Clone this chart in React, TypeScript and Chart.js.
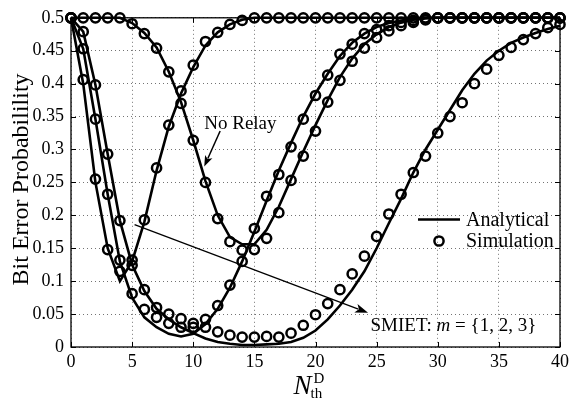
import React, { useEffect, useRef } from 'react';
import { Chart, registerables } from 'chart.js';

Chart.register(...registerables);

// ---------- data ----------
const xValues = [0, 1, 2, 3, 4, 5, 6, 7, 8, 9, 10, 11, 12, 13, 14, 15, 16, 17, 18, 19, 20,
  21, 22, 23, 24, 25, 26, 27, 28, 29, 30, 31, 32, 33, 34, 35, 36, 37, 38, 39, 40];

const xTicks = [0, 5, 10, 15, 20, 25, 30, 35, 40];
const yTicks = [0, 0.05, 0.1, 0.15, 0.2, 0.25, 0.3, 0.35, 0.4, 0.45, 0.5];
const yTickLabels = ['0', '0.05', '0.1', '0.15', '0.2', '0.25', '0.3', '0.35', '0.4', '0.45', '0.5'];

// No relay
const noRelayAnalytical = [0.5, 0.5, 0.5, 0.5, 0.5, 0.492, 0.477, 0.455, 0.418, 0.372, 0.314,
  0.252, 0.2, 0.167, 0.156, 0.156, 0.178, 0.213, 0.255, 0.297, 0.337,
  0.375, 0.41, 0.438, 0.46, 0.475, 0.486, 0.493, 0.497, 0.499, 0.5,
  0.5, 0.5, 0.5, 0.5, 0.5, 0.5, 0.5, 0.5, 0.5, 0.5];
const noRelaySimulation = [0.5, 0.5, 0.5, 0.5, 0.5, 0.491, 0.476, 0.454, 0.418, 0.37, 0.314,
  0.25, 0.195, 0.16, 0.147, 0.148, 0.165, 0.204, 0.253, 0.29, 0.328,
  0.372, 0.405, 0.434, 0.454, 0.47, 0.48, 0.488, 0.493, 0.497, 0.5,
  0.5, 0.5, 0.5, 0.5, 0.5, 0.5, 0.5, 0.5, 0.5, 0.5];

// SMIET m = 1
const m1Analytical = [0.5, 0.4, 0.25, 0.15, 0.1, 0.13, 0.19, 0.268, 0.335, 0.385, 0.425,
  0.458, 0.478, 0.49, 0.497, 0.5, 0.5, 0.5, 0.5, 0.5, 0.5,
  0.5, 0.5, 0.5, 0.5, 0.5, 0.5, 0.5, 0.5, 0.5, 0.5,
  0.5, 0.5, 0.5, 0.5, 0.5, 0.5, 0.5, 0.5, 0.5, 0.5];
const m1Simulation = [0.5, 0.406, 0.255, 0.148, 0.115, 0.132, 0.193, 0.272, 0.337, 0.389, 0.428,
  0.464, 0.478, 0.49, 0.496, 0.5, 0.5, 0.5, 0.5, 0.5, 0.5,
  0.5, 0.5, 0.5, 0.5, 0.5, 0.5, 0.5, 0.5, 0.5, 0.5,
  0.5, 0.5, 0.5, 0.5, 0.5, 0.5, 0.5, 0.5, 0.5, 0.5];

// SMIET m = 2
const m2Analytical = [0.5, 0.453, 0.346, 0.232, 0.13, 0.075, 0.045, 0.03, 0.02, 0.016, 0.02,
  0.035, 0.058, 0.09, 0.13, 0.175, 0.222, 0.268, 0.31, 0.35, 0.385,
  0.415, 0.442, 0.462, 0.476, 0.486, 0.492, 0.496, 0.498, 0.5, 0.5,
  0.5, 0.5, 0.5, 0.5, 0.5, 0.5, 0.5, 0.5, 0.5, 0.5];
const m2Simulation = [0.5, 0.453, 0.346, 0.232, 0.132, 0.081, 0.057, 0.045, 0.036, 0.03, 0.03,
  0.042, 0.063, 0.094, 0.13, 0.18, 0.229, 0.262, 0.304, 0.346, 0.382,
  0.413, 0.445, 0.46, 0.476, 0.482, 0.488, 0.493, 0.496, 0.498, 0.5,
  0.5, 0.5, 0.5, 0.5, 0.5, 0.5, 0.5, 0.5, 0.5, 0.5];

// SMIET m = 3
const m3Analytical = [0.5, 0.479, 0.398, 0.293, 0.192, 0.125, 0.085, 0.058, 0.042, 0.03, 0.021,
  0.013, 0.0075, 0.005, 0.003, 0.003, 0.004, 0.005, 0.0075, 0.014, 0.025,
  0.042, 0.063, 0.087, 0.115, 0.15, 0.188, 0.225, 0.265, 0.3, 0.33,
  0.36, 0.39, 0.415, 0.435, 0.45, 0.462, 0.47, 0.477, 0.483, 0.488];
const m3Simulation = [0.5, 0.479, 0.398, 0.293, 0.192, 0.124, 0.087, 0.06, 0.05, 0.043, 0.036,
  0.03, 0.023, 0.018, 0.015, 0.015, 0.016, 0.015, 0.021, 0.033, 0.049,
  0.066, 0.087, 0.111, 0.138, 0.168, 0.202, 0.232, 0.265, 0.29, 0.325,
  0.35, 0.371, 0.4, 0.422, 0.443, 0.455, 0.467, 0.476, 0.485, 0.49];

// annotation anchors (data coordinates)
const noRelayLabel = { text: 'No Relay', x: 10.9, y: 0.335 };
const noRelayArrow = { from: [12.2, 0.328], to: [10.9, 0.274] };
const smietArrow = { from: [5.2, 0.186], to: [24.3, 0.052] };
const smietLabel = { x: 24.5, y: 0.024 };

const legendLabels = ['Analytical', 'Simulation'];

const FONT = "'Liberation Serif', 'Times New Roman', serif";

export default function App() {
  const ref = useRef<HTMLCanvasElement>(null);

  useEffect(() => {
    const canvas = ref.current;
    if (!canvas) return;
    const pts = (ys: number[]) => xValues.map((x, i) => ({ x, y: ys[i] }));

    const lineDs = (label: string, ys: number[]) => ({
      label,
      data: pts(ys),
      borderColor: '#000',
      borderWidth: 2.6,
      pointRadius: 0,
      tension: 0,
      fill: false,
      clip: false as any,
    });
    const simDs = (label: string, ys: number[]) => ({
      label,
      data: pts(ys),
      showLine: false,
      borderColor: '#000',
      backgroundColor: 'rgba(0,0,0,0)',
      pointBorderColor: '#000',
      pointBackgroundColor: 'rgba(0,0,0,0)',
      pointBorderWidth: 2.5,
      pointRadius: 4.6,
      pointStyle: 'circle',
      clip: false as any,
    });

    const drawArrow = (ctx: CanvasRenderingContext2D, x1: number, y1: number, x2: number, y2: number, lw: number, hl: number, hw: number) => {
      const ang = Math.atan2(y2 - y1, x2 - x1);
      ctx.lineWidth = lw;
      ctx.beginPath();
      ctx.moveTo(x1, y1);
      ctx.lineTo(x2 - Math.cos(ang) * hl * 0.8, y2 - Math.sin(ang) * hl * 0.8);
      ctx.stroke();
      ctx.beginPath();
      ctx.moveTo(x2, y2);
      ctx.lineTo(x2 - Math.cos(ang) * hl - Math.sin(ang) * hw, y2 - Math.sin(ang) * hl + Math.cos(ang) * hw);
      ctx.lineTo(x2 - Math.cos(ang) * hl * 0.75, y2 - Math.sin(ang) * hl * 0.75);
      ctx.lineTo(x2 - Math.cos(ang) * hl + Math.sin(ang) * hw, y2 - Math.sin(ang) * hl - Math.cos(ang) * hw);
      ctx.closePath();
      ctx.fill();
    };

    const overlay = {
      id: 'overlay',
      afterDraw(chart: any) {
        const { ctx, chartArea: a, scales } = chart;
        const sx = scales.x;
        const sy = scales.y;
        ctx.save();
        ctx.strokeStyle = '#000';
        ctx.fillStyle = '#000';

        // box
        ctx.lineWidth = 1.3;
        ctx.strokeRect(a.left, a.top, a.right - a.left, a.bottom - a.top);

        // inward tick marks
        ctx.lineWidth = 1;
        const tl = 5;
        ctx.beginPath();
        xTicks.forEach((v) => {
          const px = Math.round(sx.getPixelForValue(v)) + 0.5;
          ctx.moveTo(px, a.bottom); ctx.lineTo(px, a.bottom - tl);
          ctx.moveTo(px, a.top); ctx.lineTo(px, a.top + tl);
        });
        yTicks.forEach((v) => {
          const py = Math.round(sy.getPixelForValue(v)) + 0.5;
          ctx.moveTo(a.left, py); ctx.lineTo(a.left + tl, py);
          ctx.moveTo(a.right, py); ctx.lineTo(a.right - tl, py);
        });
        ctx.stroke();

        // legend
        ctx.lineWidth = 2.6;
        ctx.beginPath();
        ctx.moveTo(418, 219.5); ctx.lineTo(460, 219.5);
        ctx.stroke();
        ctx.lineWidth = 2.5;
        ctx.beginPath();
        ctx.arc(439, 241, 4.6, 0, Math.PI * 2);
        ctx.stroke();
        ctx.font = `20px ${FONT}`;
        ctx.textAlign = 'left';
        ctx.textBaseline = 'alphabetic';
        ctx.fillText(legendLabels[0], 466, 226);
        ctx.fillText(legendLabels[1], 466, 247);

        // No Relay annotation
        ctx.font = `19px ${FONT}`;
        ctx.fillText(noRelayLabel.text, sx.getPixelForValue(noRelayLabel.x), sy.getPixelForValue(noRelayLabel.y) + 3);
        drawArrow(ctx,
          sx.getPixelForValue(noRelayArrow.from[0]), sy.getPixelForValue(noRelayArrow.from[1]),
          sx.getPixelForValue(noRelayArrow.to[0]), sy.getPixelForValue(noRelayArrow.to[1]), 1.5, 11, 4);

        // SMIET arrow and label
        drawArrow(ctx,
          sx.getPixelForValue(smietArrow.from[0]), sy.getPixelForValue(smietArrow.from[1]),
          sx.getPixelForValue(smietArrow.to[0]), sy.getPixelForValue(smietArrow.to[1]), 1.3, 13, 4.5);
        let lx = sx.getPixelForValue(smietLabel.x);
        const ly = sy.getPixelForValue(smietLabel.y);
        const parts: [string, boolean][] = [['SMIET: ', false], ['m', true], [' = {1, 2, 3}', false]];
        parts.forEach(([t, it]) => {
          ctx.font = `${it ? 'italic ' : ''}19px ${FONT}`;
          ctx.fillText(t, lx, ly);
          lx += ctx.measureText(t).width;
        });

        // y axis title
        ctx.save();
        ctx.translate(28, (a.top + a.bottom) / 2 - 3);
        ctx.rotate(-Math.PI / 2);
        ctx.font = `24px ${FONT}`;
        ctx.textAlign = 'center';
        ctx.textBaseline = 'alphabetic';
        ctx.fillText('Bit Error Probabilility', 0, 0);
        ctx.restore();

        // x axis title N_th^D
        const cx = (a.left + a.right) / 2;
        ctx.textAlign = 'left';
        ctx.font = `italic 27px ${FONT}`;
        const nW = ctx.measureText('N').width;
        const nx = cx - 22;
        ctx.fillText('N', nx, 394);
        ctx.font = `15px ${FONT}`;
        ctx.fillText('D', nx + nW + 2, 383);
        ctx.fillText('th', nx + nW - 1, 398);

        ctx.restore();
      },
    };

    const chart = new Chart(canvas, {
      type: 'line',
      data: {
        datasets: [
          lineDs('No Relay analytical', noRelayAnalytical),
          lineDs('SMIET m=1 analytical', m1Analytical),
          lineDs('SMIET m=2 analytical', m2Analytical),
          lineDs('SMIET m=3 analytical', m3Analytical),
          simDs('No Relay simulation', noRelaySimulation),
          simDs('SMIET m=1 simulation', m1Simulation),
          simDs('SMIET m=2 simulation', m2Simulation),
          simDs('SMIET m=3 simulation', m3Simulation),
        ] as any,
      },
      options: {
        responsive: false,
        animation: false,
        devicePixelRatio: 1,
        layout: { padding: { left: 0, top: 13, right: 10, bottom: 0 } },
        plugins: {
          legend: { display: false },
          tooltip: { enabled: false },
        },
        scales: {
          x: {
            type: 'linear',
            min: 0,
            max: 40,
            afterBuildTicks: (s: any) => { s.ticks = xTicks.map((v) => ({ value: v })); },
            afterFit: (s: any) => { s.height = 58; },
            ticks: {
              color: '#000',
              font: { family: FONT, size: 18 },
              padding: 4,
              maxRotation: 0,
              autoSkip: false,
              callback: (v: any) => String(v),
            },
            grid: { color: 'rgba(0,0,0,0.55)', lineWidth: 1, drawTicks: false },
            border: { display: false, dash: [1, 3] },
          },
          y: {
            type: 'linear',
            min: 0,
            max: 0.5,
            afterBuildTicks: (s: any) => { s.ticks = yTicks.map((v) => ({ value: v })); },
            afterFit: (s: any) => { s.width = 71; },
            ticks: {
              color: '#000',
              font: { family: FONT, size: 18 },
              padding: 7,
              autoSkip: false,
              callback: (_v: any, i: number) => yTickLabels[i],
            },
            grid: { color: 'rgba(0,0,0,0.55)', lineWidth: 1, drawTicks: false },
            border: { display: false, dash: [1, 3] },
          },
        },
      },
      plugins: [overlay],
    });
    return () => chart.destroy();
  }, []);

  return (
    <div style={{ position: 'fixed', left: 0, top: 0, width: 573, height: 405, background: '#fff' }}>
      <canvas ref={ref} width={573} height={405} style={{ display: 'block' }} />
    </div>
  );
}
